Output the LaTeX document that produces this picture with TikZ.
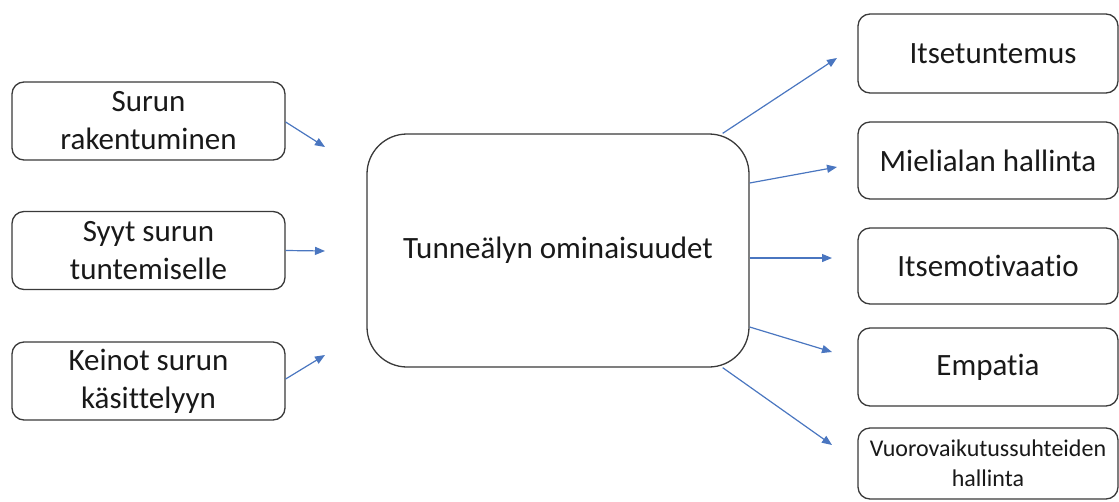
\documentclass[tikz,border=0pt]{standalone}
\usepackage{fontspec}
\setmainfont[Ligatures=NoCommon]{Carlito}
\usetikzlibrary{arrows.meta,calc}
\definecolor{boxline}{HTML}{3A3A3A}
\definecolor{arrowblue}{HTML}{4A76C0}
\tikzset{
  box/.style={draw=boxline, line width=1.3pt, rounded corners=12pt, fill=white,
              align=center, inner sep=0pt, text=black!90,
              font=\fontsize{31}{38}\selectfont},
  bigbox/.style={box, rounded corners=40pt},
  smalltext/.style={font=\fontsize{24}{30}\selectfont},
  link/.style={draw=arrowblue, line width=1.2pt,
               -{Triangle[length=10pt,width=8pt]}},
}
\begin{document}
\begin{tikzpicture}[x=1pt,y=-1pt]
  \useasboundingbox (0,0) rectangle (1119,501);

  % left column
  \node[box, minimum width=273pt, minimum height=78pt] (l1) at (148.5,121) {Surun\\rakentuminen};
  \node[box, minimum width=273pt, minimum height=78pt] (l2) at (148.5,250.5) {Syyt surun\\tuntemiselle};
  \node[box, minimum width=273pt, minimum height=78pt] (l3) at (148.5,381) {Keinot surun\\käsittelyyn};

  % central node
  \node[bigbox, minimum width=382pt, minimum height=233pt] (c) at (558,250.5) {Tunneälyn ominaisuudet};

  % right column
  \node[box, minimum width=260pt, minimum height=79pt] (r1) at (988,53.5) {\hspace*{10pt}Itsetuntemus};
  \node[box, minimum width=260pt, minimum height=77pt] (r2) at (988,160.5) {Mielialan hallinta};
  \node[box, minimum width=260pt, minimum height=76pt] (r3) at (988,266) {Itsemotivaatio};
  \node[box, minimum width=260pt, minimum height=78pt] (r4) at (988,367) {Empatia};
  \node[box, smalltext, minimum width=260pt, minimum height=71pt] (r5) at (988,463.5) {Vuorovaikutussuhteiden\\hallinta};

  % free arrow tips
  \coordinate (s1) at (325,147);
  \coordinate (s2) at (325,251);
  \coordinate (s3) at (325,355);
  \coordinate (t1) at (837,58);
  \coordinate (t2) at (837,167);
  \coordinate (t3) at (832,258);
  \coordinate (t4) at (832,352);
  \coordinate (t5) at (832,445);

  % arrows into the centre
  \draw[link] ($(l1.east)+(0,1)$) -- (s1);
  \draw[link] (l2.east) -- (s2);
  \draw[link] ($(l3.east)+(0,-2)$) -- (s3);

  % arrows out of the centre
  \draw[link] ($(c.north east)+(-27,0)$) -- (t1);
  \draw[link] ($(c.east)+(0,-67.5)$) -- (t2);
  \draw[link] ($(c.east)+(0,7.5)$) -- (t3);
  \draw[link] ($(c.east)+(0,76.5)$) -- (t4);
  \draw[link] ($(c.south east)+(-27,0)$) -- (t5);
\end{tikzpicture}
\end{document}
